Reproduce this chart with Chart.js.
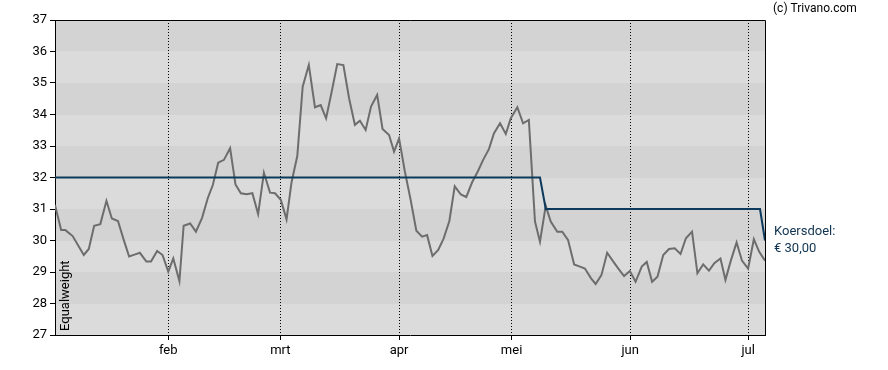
<!DOCTYPE html>
<html>
<head>
<meta charset="utf-8">
<script src="https://cdn.jsdelivr.net/npm/chart.js@4/dist/chart.umd.min.js"></script>
<style>
  html, body { margin: 0; padding: 0; background: #fff; }
  #wrap { width: 888px; height: 370px; }
</style>
</head>
<body>
<div id="wrap"><canvas id="c" width="888" height="370"></canvas></div>
<script>
// Positions (days since 1 Jan) of the plotted trading days
const priceDays = [1.5, 3.1, 4.2, 6.1, 9.0, 10.3, 11.7, 13.3, 14.9, 16.3, 17.9, 19.4, 20.8, 22.2, 23.6, 25.3, 26.5, 28.1, 29.5, 31.0,
  32.3, 33.9, 35.0, 36.7, 38.2, 39.8, 41.3, 42.6, 44.0, 45.5, 47.1, 48.5, 49.9, 51.4, 52.9, 54.4, 55.9, 57.5, 58.8, 60.3,
  61.8, 63.1, 64.6, 66.0, 67.6, 69.2, 70.7, 72.1, 73.5, 75.0, 76.6, 78.1, 79.6, 80.9, 82.4, 83.8, 85.4, 86.8, 88.5, 89.8,
  91.1, 92.6, 94.1, 95.6, 97.1, 98.4, 99.8, 101.3, 102.7, 104.2, 105.6, 107.2, 108.6, 110.1, 111.6, 113.0, 114.5, 115.8, 117.4, 118.9,
  120.2, 121.9, 123.4, 124.9, 126.5, 127.8, 129.3, 130.6, 132.3, 133.6, 135.1, 136.7, 138.2, 139.5, 141.1, 142.3, 143.8, 145.3, 146.9, 148.3,
  149.7, 151.2, 152.7, 154.3, 155.6, 157.0, 158.4, 159.9, 161.4, 162.9, 164.4, 165.8, 167.4, 168.8, 170.3, 171.8, 173.2, 174.8, 176.1, 177.5,
  179.0, 180.4, 182.0, 183.5, 184.9, 186.4];
const prices = [31.13, 30.33, 30.33, 30.14, 29.54, 29.73, 30.47, 30.52, 31.26, 30.70, 30.62, 30.02, 29.49, 29.55, 29.61, 29.33, 29.33, 29.67, 29.54, 29.01,
  29.43, 28.71, 30.47, 30.54, 30.28, 30.72, 31.35, 31.76, 32.47, 32.56, 32.93, 31.78, 31.50, 31.47, 31.50, 30.84, 32.15, 31.52, 31.50, 31.29,
  30.67, 31.85, 32.68, 34.88, 35.57, 34.23, 34.30, 33.88, 34.69, 35.60, 35.57, 34.51, 33.67, 33.80, 33.51, 34.25, 34.62, 33.54, 33.35, 32.82,
  33.24, 32.20, 31.30, 30.31, 30.12, 30.17, 29.51, 29.70, 30.06, 30.62, 31.72, 31.46, 31.38, 31.84, 32.19, 32.56, 32.90, 33.40, 33.72, 33.38,
  33.88, 34.23, 33.72, 33.83, 30.60, 29.96, 31.10, 30.60, 30.28, 30.28, 30.02, 29.24, 29.17, 29.11, 28.80, 28.62, 28.90, 29.61, 29.33, 29.09,
  28.87, 29.03, 28.69, 29.17, 29.32, 28.69, 28.85, 29.54, 29.73, 29.75, 29.57, 30.07, 30.28, 28.96, 29.24, 29.04, 29.28, 29.43, 28.75, 29.36,
  29.94, 29.36, 29.11, 30.04, 29.64, 29.36];

const targetDays = [1.5, 127.8, 129.3, 185.1, 186.4];
const targets = [32, 32, 31, 31, 30];

// month-start marker positions
const monthDays = [31, 60.2, 91.1, 120.4, 151.3, 182];
const monthLabels = ['feb', 'mrt', 'apr', 'mei', 'jun', 'jul'];

const yTicks = [27, 28, 29, 30, 31, 32, 33, 34, 35, 36, 37];

const seriesLabel = 'Equalweight';
const targetLabel = 'Koersdoel:';
const targetValueLabel = '€ 30,00';
const copyright = '(c) Trivano.com';

const FONT = 'Roboto, "Liberation Sans", Arial, sans-serif';

const pricePts = priceDays.map((d, i) => ({ x: d, y: prices[i] }));
const targetPts = targetDays.map((d, i) => ({ x: d, y: targets[i] }));

const decor = {
  id: 'decor',
  beforeDraw(chart) {
    const { ctx, chartArea: a, scales: { x, y } } = chart;
    ctx.save();
    ctx.fillStyle = '#ffffff';
    ctx.fillRect(0, 0, chart.width, chart.height);
    for (let v = yTicks[0]; v < yTicks[yTicks.length - 1]; v++) {
      const y1 = Math.round(y.getPixelForValue(v + 1));
      const y0 = Math.round(y.getPixelForValue(v));
      ctx.fillStyle = (v % 2 === 0) ? '#d3d3d3' : '#dbdbdb';
      ctx.fillRect(a.left, y1, a.right - a.left, y0 - y1);
    }
    ctx.strokeStyle = '#000';
    ctx.lineWidth = 1;
    ctx.setLineDash([1, 2]);
    monthDays.forEach(d => {
      const px = Math.floor(x.getPixelForValue(d)) + 0.5;
      ctx.beginPath();
      ctx.moveTo(px, a.top);
      ctx.lineTo(px, a.bottom);
      ctx.stroke();
    });
    ctx.restore();
  },
  afterDraw(chart) {
    const { ctx, chartArea: a, scales: { y } } = chart;
    ctx.save();
    ctx.strokeStyle = '#000';
    ctx.lineWidth = 1;
    ctx.beginPath();
    ctx.moveTo(a.left, Math.round(a.top) + 0.5);
    ctx.lineTo(Math.round(a.right) + 0.5, Math.round(a.top) + 0.5);
    ctx.lineTo(Math.round(a.right) + 0.5, a.bottom);
    ctx.stroke();

    ctx.fillStyle = '#000';
    ctx.font = '13px ' + FONT;
    ctx.textAlign = 'left';
    ctx.textBaseline = 'alphabetic';
    ctx.save();
    ctx.translate(a.left + 14, a.bottom - 4);
    ctx.rotate(-Math.PI / 2);
    ctx.fillText(seriesLabel, 0, 0);
    ctx.restore();

    const ty = y.getPixelForValue(targets[targets.length - 1]);
    ctx.fillStyle = '#0f3350';
    ctx.textBaseline = 'middle';
    ctx.fillText(targetLabel, a.right + 9, ty - 8.5);
    ctx.fillText(targetValueLabel, a.right + 9, ty + 8.5);

    ctx.fillStyle = '#000';
    ctx.font = '12px ' + FONT;
    ctx.fillText(copyright, a.right + 8, 9);
    ctx.restore();
  }
};

new Chart(document.getElementById('c'), {
  type: 'line',
  data: {
    datasets: [
      { label: targetLabel, data: targetPts, borderColor: '#0d3a5c', borderWidth: 2, pointRadius: 0, tension: 0, fill: false },
      { label: seriesLabel, data: pricePts, borderColor: '#6d6d6d', borderWidth: 2, pointRadius: 0, tension: 0, fill: false }
    ]
  },
  options: {
    responsive: false,
    animation: false,
    devicePixelRatio: 1,
    layout: { padding: { top: 20, right: 123, left: 0, bottom: 0 } },
    plugins: { legend: { display: false }, tooltip: { enabled: false } },
    scales: {
      x: {
        type: 'linear',
        min: priceDays[0],
        max: priceDays[priceDays.length - 1],
        afterBuildTicks: s => { s.ticks = monthDays.map(v => ({ value: v })); },
        afterFit: s => { s.height = 35; },
        ticks: {
          autoSkip: false, maxRotation: 0, padding: 3, color: '#000',
          font: { family: FONT, size: 13 },
          callback: v => monthLabels[monthDays.indexOf(v)]
        },
        grid: { drawOnChartArea: false, tickLength: 5, color: '#000' },
        border: { color: '#000', width: 1 }
      },
      y: {
        min: 27, max: 37,
        afterBuildTicks: s => { s.ticks = yTicks.map(v => ({ value: v })); },
        afterFit: s => { s.width = 55; },
        ticks: { padding: 3, color: '#000', font: { family: FONT, size: 13 } },
        grid: { drawOnChartArea: false, tickLength: 5, color: '#000' },
        border: { color: '#000', width: 1 }
      }
    }
  },
  plugins: [decor]
});
</script>
</body>
</html>
